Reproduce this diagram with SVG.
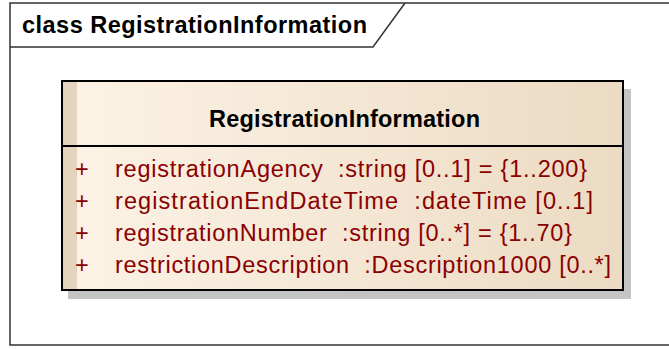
<svg xmlns="http://www.w3.org/2000/svg" width="669" height="349" viewBox="0 0 669 349">
<defs>
<linearGradient id="g" x1="0" y1="0" x2="1" y2="0">
<stop offset="0" stop-color="#fcf3e6"/>
<stop offset="1" stop-color="#ecdbc3"/>
</linearGradient>
<style>
.frame{fill:#fff;stroke:#333;stroke-width:1.5}
.t{font-family:"Liberation Sans",Arial,sans-serif}
.title{font-size:23.5px;font-weight:bold;fill:#000}
.cname{font-size:23.5px;font-weight:bold;fill:#000}
.attr{font-size:23.5px;fill:#8b0000}
</style>
</defs>
<g id="frame">
<rect class="frame" x="10" y="3" width="670" height="342"/>
<path d="M10 47 H373 L405 3" fill="none" stroke="#333" stroke-width="1.5"/>
<text class="t title" x="22" y="33" textLength="345" lengthAdjust="spacing">class RegistrationInformation</text>
</g>
<g id="RegistrationInformation">
<rect x="68" y="89" width="563" height="210" fill="#c4c4c4"/>
<rect x="62" y="81" width="561" height="209" fill="url(#g)"/>
<rect x="63" y="82" width="14" height="207" fill="#e5d4bd"/>
<rect x="62" y="81" width="561" height="209" fill="none" stroke="#000" stroke-width="2"/>
<line x1="62" y1="146" x2="623" y2="146" stroke="#000" stroke-width="2"/>
<text class="t cname" x="209" y="127" textLength="271" lengthAdjust="spacing">RegistrationInformation</text>
<g class="t attr">
<text x="75" y="177">+</text><text x="115" y="177" xml:space="preserve" textLength="472" lengthAdjust="spacing">registrationAgency  :string [0..1] = {1..200}</text>
<text x="75" y="209">+</text><text x="115" y="209" xml:space="preserve" textLength="478" lengthAdjust="spacing">registrationEndDateTime  :dateTime [0..1]</text>
<text x="75" y="241">+</text><text x="115" y="241" xml:space="preserve" textLength="457" lengthAdjust="spacing">registrationNumber  :string [0..*] = {1..70}</text>
<text x="75" y="273">+</text><text x="115" y="273" xml:space="preserve" textLength="496" lengthAdjust="spacing">restrictionDescription  :Description1000 [0..*]</text>
</g>
</g>
<g id="connectors"/>
</svg>
